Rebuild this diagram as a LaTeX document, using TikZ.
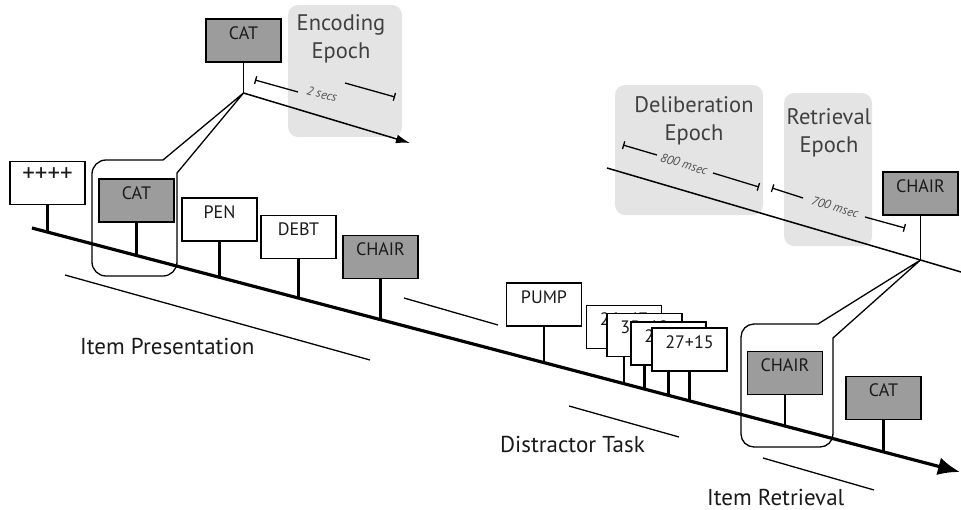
\documentclass[tikz,border=0pt]{standalone}
\usepackage{fontspec}
\setmainfont{PT Sans}
\usetikzlibrary{arrows.meta}
\definecolor{boxgray}{HTML}{9C9C9C}
\definecolor{epochgray}{HTML}{E4E4E4}
\definecolor{epochtext}{HTML}{404040}
\definecolor{durtext}{HTML}{505050}
\definecolor{inktext}{HTML}{1A1A1A}
\begin{document}
\begin{tikzpicture}[x=1pt,y=1pt,
  wbox/.style={draw=black,line width=1.6pt,fill=white,minimum width=75pt,minimum height=43pt,
    inner sep=0pt,text height=12.6pt,text depth=15.4pt,font=\fontsize{18}{20}\selectfont,text=inktext},
  gbox/.style={wbox,fill=boxgray},
  stem/.style={line width=2.4pt},
  epoch/.style={fill=epochgray,draw=none,rounded corners=10pt,inner sep=0pt},
  epochlabel/.style={align=center,inner sep=0pt,anchor=north,text=epochtext,
    font=\fontsize{22.5}{28}\selectfont},
  phase/.style={line width=1.3pt},
  phaselabel/.style={anchor=base west,inner sep=0pt,font=\fontsize{23}{26}\selectfont,text=inktext},
  callout/.style={line width=1.3pt},
  subline/.style={line width=1.5pt},
  dur/.style={line width=1.3pt},
  durlabel/.style={inner sep=0pt,text=durtext,font=\fontsize{12.5}{14}\selectfont\itshape}
]
\useasboundingbox (0,0) rectangle (961,-509);

% epoch backgrounds
\node[epoch,minimum width=114pt,minimum height=132pt] (encbg) at (345,-71) {};
\node[epoch,minimum width=148pt,minimum height=130pt] (delbg) at (689,-150) {};
\node[epoch,minimum width=88pt,minimum height=153pt] (retbg) at (828,-169.5) {};
\node[epochlabel] (enct) at (341,-14) {Encoding\\Epoch};
\node[epochlabel] (delt) at (694,-96) {Deliberation\\Epoch};
\node[epochlabel] (rett) at (829,-108) {Retrieval\\Epoch};

% coordinates of timelines
\coordinate (t0) at (32,-228);
\coordinate (t1) at (960,-472);
\coordinate (encapex) at (243.5,-93);
\coordinate (encend) at (410,-143);
\coordinate (r0) at (607,-168);
\coordinate (retapex) at (920.5,-260);
\coordinate (r1) at (961,-272);

% duration markers
\coordinate (d1a) at (255,-80);  \coordinate (d1b) at (298,-92);
\coordinate (d1c) at (345,-83);  \coordinate (d1d) at (395,-97);
\draw[dur,{Bar[width=8pt]}-] (d1a) -- (d1b);
\draw[dur,-{Bar[width=8pt]}] (d1c) -- (d1d);
\node[durlabel,rotate=-15] (d1t) at (322,-94) {2 secs};

\coordinate (d2a) at (623,-145);  \coordinate (d2b) at (657,-155);
\coordinate (d2c) at (713,-173);  \coordinate (d2d) at (759,-187);
\draw[dur,{Bar[width=8pt]}-] (d2a) -- (d2b);
\draw[dur,-{Bar[width=8pt]}] (d2c) -- (d2d);
\node[durlabel,rotate=-17] (d2t) at (684,-164) {800 msec};

\coordinate (d3a) at (772,-188);  \coordinate (d3b) at (803,-198);
\coordinate (d3c) at (865,-217);  \coordinate (d3d) at (905,-228);
\draw[dur,{Bar[width=8pt]}-] (d3a) -- (d3b);
\draw[dur,-{Bar[width=8pt]}] (d3c) -- (d3d);
\node[durlabel,rotate=-17] (d3t) at (835,-207) {700 msec};

% sub-timelines
\draw[subline,-{Latex[length=14pt,width=9pt]}] (encapex) -- (encend);
\draw[subline] (r0) -- (retapex) -- (r1);

% top boxes
\node[gbox] (topcat) at (243.5,-40.5) {CAT};
\draw[stem,line width=1.6pt] (topcat.south) -- (encapex);
\node[gbox] (topchair) at (920.5,-193.5) {CHAIR};
\draw[stem,line width=1.6pt] (topchair.south) -- (retapex);

% callouts
\draw[callout] (encapex) -- (163,-160) -- (106,-160) arc[start angle=90,end angle=180,radius=14pt]
  -- (92,-262) arc[start angle=180,end angle=270,radius=14pt]
  -- (163,-276) arc[start angle=270,end angle=360,radius=14pt]
  -- (177,-173) -- cycle;
\draw[callout] (retapex) -- (818,-324) -- (754,-324) arc[start angle=90,end angle=180,radius=13pt]
  -- (741,-434) arc[start angle=180,end angle=270,radius=13pt]
  -- (820,-447) arc[start angle=270,end angle=360,radius=13pt]
  -- (833,-338) -- cycle;

% phase lines
\coordinate (p1a) at (65,-275);  \coordinate (p1b) at (370,-360);
\coordinate (p2a) at (404,-298); \coordinate (p2b) at (498,-325);
\coordinate (p3a) at (569,-406); \coordinate (p3b) at (679,-437);
\coordinate (p4a) at (763,-458); \coordinate (p4b) at (874,-490);
\draw[phase] (p1a) -- (p1b);
\draw[phase] (p2a) -- (p2b);
\draw[phase] (p3a) -- (p3b);
\draw[phase] (p4a) -- (p4b);
\node[phaselabel] (pres) at (80,-354) {Item Presentation};
\node[phaselabel] (dist) at (500,-452) {Distractor Task};
\node[phaselabel] (retr) at (707,-505) {Item Retrieval};

% boxes on main timeline
\node[wbox,font=\fontsize{25}{26}\selectfont] (plus) at (47.5,-183) {++++};
\coordinate (s1) at (47.5,-232.1);
\draw[stem] (plus.south) -- (s1);
\node[gbox] (cat) at (136.5,-200.5) {CAT};
\coordinate (s2) at (136.5,-255.4);
\draw[stem] (cat.south) -- (s2);
\node[wbox] (pen) at (219.5,-219.5) {PEN};
\coordinate (s3) at (219.5,-277.2);
\draw[stem] (pen.south) -- (s3);
\node[wbox] (debt) at (298.5,-237) {DEBT};
\coordinate (s4) at (298.5,-298);
\draw[stem] (debt.south) -- (s4);
\node[gbox] (chair) at (380.5,-257) {CHAIR};
\coordinate (s5) at (380.5,-319.5);
\draw[stem] (chair.south) -- (s5);
\node[wbox] (pump) at (544,-304.5) {PUMP};
\coordinate (s6) at (544,-362.5);
\draw[stem] (pump.south) -- (s6);
\node[wbox] (m1) at (624,-327) {26+47};
\coordinate (s7) at (624,-383.5);
\draw[stem] (m1.south) -- (s7);
\node[wbox] (m2) at (644.5,-335) {35+12};
\coordinate (s8) at (644.5,-388.8);
\draw[stem] (m2.south) -- (s8);
\node[wbox] (m3) at (668.5,-343.5) {26+18};
\coordinate (s9) at (668.5,-395.1);
\draw[stem] (m3.south) -- (s9);
\node[wbox] (m4) at (689.5,-349.5) {27+15};
\coordinate (s10) at (689.5,-400.7);
\draw[stem] (m4.south) -- (s10);
\node[gbox] (rchair) at (785,-373) {CHAIR};
\coordinate (s11) at (785,-425.7);
\draw[stem] (rchair.south) -- (s11);
\node[gbox] (rcat) at (883.5,-398) {CAT};
\coordinate (s12) at (883.5,-451.6);
\draw[stem] (rcat.south) -- (s12);

% main timeline
\draw[line width=3.2pt,-{Latex[length=22pt,width=18pt]}] (t0) -- (t1);
\end{tikzpicture}
\end{document}
